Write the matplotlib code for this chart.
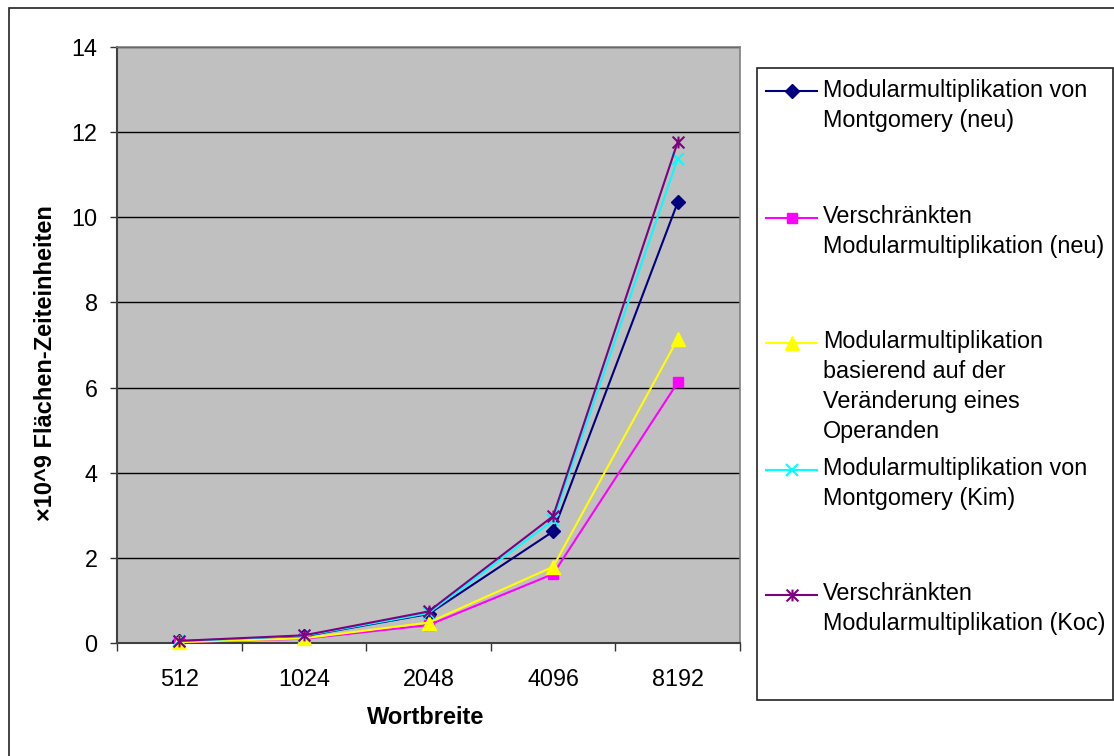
import matplotlib
matplotlib.use("Agg")
import matplotlib.pyplot as plt
from matplotlib.lines import Line2D
from matplotlib.patches import Rectangle
from matplotlib.path import Path

plt.rcParams['font.family'] = ['Liberation Sans', 'DejaVu Sans']

# word widths on the x axis
widths = ["512", "1024", "2048", "4096", "8192"]

# area-time products (x10^9) per method
montgomery_neu = [0.04, 0.16, 0.68, 2.62, 10.35]
verschraenkt_neu = [0.02, 0.10, 0.42, 1.62, 6.12]
veraenderung = [0.02, 0.11, 0.48, 1.79, 7.14]
montgomery_kim = [0.04, 0.17, 0.70, 2.88, 11.38]
verschraenkt_koc = [0.05, 0.18, 0.74, 2.98, 11.77]

labels = [
    "Modularmultiplikation von\nMontgomery (neu)",
    "Verschränkten\nModularmultiplikation (neu)",
    "Modularmultiplikation\nbasierend auf der\nVeränderung eines\nOperanden",
    "Modularmultiplikation von\nMontgomery (Kim)",
    "Verschränkten\nModularmultiplikation (Koc)",
]

# asterisk marker: vertical bar plus an x
asterisk = Path([(0, -1), (0, 1), (-1, -1), (1, 1), (-1, 1), (1, -1)],
                [Path.MOVETO, Path.LINETO, Path.MOVETO, Path.LINETO,
                 Path.MOVETO, Path.LINETO])

colors = ["#000080", "#FF00FF", "#FFFF00", "#00FFFF", "#800080"]
markers = [
    dict(marker="D", ms=7, mfc="#000080", mec="#000080"),
    dict(marker="s", ms=7, mfc="#FF00FF", mec="#FF00FF"),
    dict(marker="^", ms=10, mfc="#FFFF00", mec="#FFFF00"),
    dict(marker="x", ms=9, mec="#00FFFF", mew=1.5),
    dict(marker=asterisk, ms=8.5, mec="#800080", mew=1.5),
]
series = [montgomery_neu, verschraenkt_neu, veraenderung, montgomery_kim, verschraenkt_koc]

W, H = 1114, 756
fig = plt.figure(figsize=(W / 100, H / 100), dpi=100)
ax = fig.add_axes([117 / W, 1 - 643 / H, 623 / W, 596 / H])
ax.set_facecolor("#C0C0C0")

xs = range(len(widths))
for vals, col, mk in zip(series, colors, markers):
    ax.plot(xs, vals, lw=1.5, color=col, zorder=3, clip_on=False, **mk)

ax.set_xlim(-0.5, len(widths) - 0.5)
ax.set_ylim(0, 14)
ax.set_yticks(range(0, 15, 2))
ax.grid(axis="y", color="black", lw=1, zorder=1)
ax.set_axisbelow(True)

# tick marks sit between categories, labels at the category centres
ax.set_xticks([i - 0.5 for i in range(len(widths) + 1)])
ax.set_xticklabels([])
ax.set_xticks(list(xs), minor=True)
ax.set_xticklabels(widths, minor=True)
ax.tick_params(axis="x", which="major", length=6, width=1, color="#333333")
ax.tick_params(axis="x", which="minor", length=0, pad=18, labelsize=16.8)
ax.tick_params(axis="y", length=5, width=1, color="#333333", pad=9, labelsize=16.8)

for side in ("left", "bottom"):
    ax.spines[side].set_color("#404040")
    ax.spines[side].set_linewidth(1.5)
for side in ("top", "right"):
    ax.spines[side].set_color("#808080")
    ax.spines[side].set_linewidth(1.2)

ax.set_xlabel("Wortbreite", fontsize=17, fontweight="bold")
ax.xaxis.label.set_va("center")
ax.xaxis.set_label_coords((426 - 117) / 623, -(718 - 643) / 596)
ax.set_ylabel("×10^9 Flächen-Zeiteinheiten", fontsize=17, fontweight="bold")
ax.yaxis.label.set_va("center")
ax.yaxis.set_label_coords((45 - 117) / 623, (643 - 363) / 596)

# outer chart frame
fig.add_artist(Rectangle((9 / W, -0.1), 1.2, 1.1 - 8 / H, transform=fig.transFigure,
                         fill=False, ec="#222222", lw=1.2))

# legend box drawn by hand, entries aligned to their first text line
fig.add_artist(Rectangle((757 / W, 1 - 700 / H), (1112.5 - 757) / W, (700 - 68) / H,
                         transform=fig.transFigure, fc="white", ec="#222222", lw=1.2))
first_baselines = [96.5, 223, 348, 475, 600]
for base, lab, col, mk in zip(first_baselines, labels, colors, markers):
    hy = 1 - (base - 5.5) / H
    fig.add_artist(Line2D([766 / W, 817 / W], [hy, hy], transform=fig.transFigure,
                          lw=1.5, color=col))
    fig.add_artist(Line2D([791.5 / W], [hy], transform=fig.transFigure, ls="none", **mk))
    for i, line in enumerate(lab.split("\n")):
        fig.text(823 / W, 1 - (base + 30 * i) / H, line, fontsize=16.8,
                 ha="left", va="baseline")

fig.savefig("out.png", dpi=100)
